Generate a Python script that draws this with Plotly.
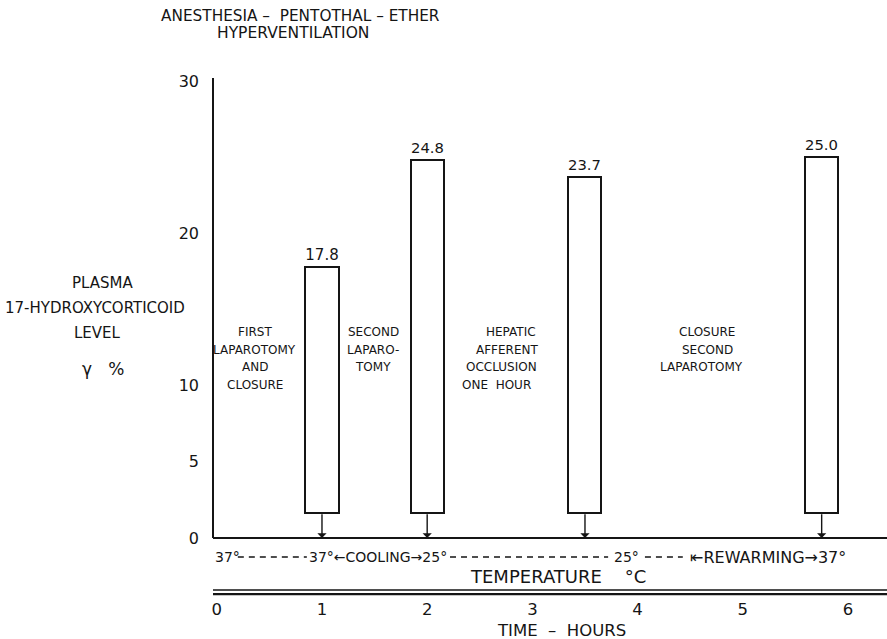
import plotly.graph_objects as go

FONT = "DejaVu Sans"
INK = "#151515"

# ---- data ----
hours = [1.0, 2.0, 3.5, 5.75]
levels = [17.8, 24.8, 23.7, 25.0]
bar_base = 1.65
x_ticks = [0, 1, 2, 3, 4, 5, 6]
y_ticks = [0, 5, 10, 20, 30]

title_lines = ["ANESTHESIA \u2013\u00a0 PENTOTHAL \u2013 ETHER", "HYPERVENTILATION"]
ylabel_lines = ["PLASMA", "17-HYDROXYCORTICOID", "LEVEL", "\u03b3\u00a0\u00a0\u00a0%"]
phase_labels = [
    ["FIRST", "LAPAROTOMY", "AND", "CLOSURE"],
    ["SECOND", "LAPARO-", "TOMY"],
    ["HEPATIC", "AFFERENT", "OCCLUSION", "ONE\u00a0 HOUR"],
    ["CLOSURE", "SECOND", "LAPAROTOMY"],
]
temp_texts = ["37\u00b0", "37\u00b0\u2190COOLING\u219225\u00b0", "25\u00b0", "\u21e4REWARMING\u219237\u00b0"]

fig = go.Figure()
fig.add_trace(go.Bar(
    x=hours,
    y=[v - bar_base for v in levels],
    base=bar_base,
    width=0.314,
    marker=dict(color="white", line=dict(color=INK, width=2)),
    text=[f"{v:.1f}" for v in levels],
    textposition="outside",
    textfont=dict(family=FONT, size=15, color=INK),
    cliponaxis=False,
    hoverinfo="skip",
))

X0 = -0.036   # position of the vertical axis line
XR = [-0.055, 6.371]
YR = [-3.808, 30.723]

shapes = []
def hline(x0, x1, y, w=2, dash="solid"):
    shapes.append(dict(type="line", xref="x", yref="y", x0=x0, x1=x1, y0=y, y1=y,
                       line=dict(color=INK, width=w, dash=dash), layer="above"))

# y axis line and zero line
shapes.append(dict(type="line", xref="x", yref="y", x0=X0, x1=X0, y0=0, y1=30.2,
                   line=dict(color=INK, width=2)))
hline(X0, XR[1], 0, 2)
# double time-axis line
hline(X0, XR[1], -3.41, 1.5)
hline(X0, XR[1], -3.68, 2.2)
# temperature dashes
T_Y = -1.25
for a, b in [(0.20, 0.856), (2.217, 3.72), (4.07, 4.43)]:
    hline(a, b, T_Y, 1.6, "6px,5px")

ann = []
def text(x, y, s, size=12, xanchor="center", ref="data"):
    r = ("x", "y") if ref == "data" else ("paper", "paper")
    ann.append(dict(x=x, y=y, xref=r[0], yref=r[1], text=s, showarrow=False,
                    xanchor=xanchor, yanchor="middle",
                    font=dict(family=FONT, size=size, color=INK)))

# arrows from bar bottoms down to zero line
for h in hours:
    ann.append(dict(x=h, y=0, ax=h, ay=bar_base, xref="x", yref="y", axref="x", ayref="y",
                    text="", showarrow=True, arrowhead=1, arrowsize=1.1, arrowwidth=1.4,
                    arrowcolor=INK, standoff=0))

# title (paper coordinates, outside the plotting area)
text(0.133, 1.1027, title_lines[0], 15.3, ref="paper")
text(0.1213, 1.0703, title_lines[1], 15.5, ref="paper")
# y label
for (x, y), s in zip([(-0.1612, 0.5951), (-0.1716, 0.5475), (-0.1672, 0.5000), (-0.1598, 0.4316)],
                     ylabel_lines):
    text(x, y, s, 15 if s != ylabel_lines[3] else 17, ref="paper")

# phase labels
line_y = [13.52, 12.37, 11.22, 10.06]
phase_x = [[0.36] * 4, [1.485] * 3, [2.80, 2.76, 2.71, 2.66], [4.66, 4.66, 4.61]]
for xs, lines in zip(phase_x, phase_labels):
    for i, s in enumerate(lines):
        text(xs[i], line_y[i], s, 12)

# temperature row
text(X0, T_Y, temp_texts[0], 14, "left")
text(1.535, T_Y, temp_texts[1], 14)
text(3.89, T_Y, temp_texts[2], 14)
text(5.24, T_Y, temp_texts[3], 16)
text(3.24, -2.56, "TEMPERATURE\u00a0\u00a0\u00a0\u00a0\u00b0C", 18)
text(0.5178, -0.0650, "TIME\u00a0\u00a0\u2013\u00a0\u00a0HOURS", 16.5, ref="paper")

fig.update_layout(
    width=887, height=639, autosize=False,
    margin=dict(l=211, r=0, t=70, b=43, pad=0),
    plot_bgcolor="white", paper_bgcolor="white",
    showlegend=False,
    font=dict(family=FONT, color=INK),
    xaxis=dict(range=XR, tickvals=x_ticks, ticktext=[str(t) for t in x_ticks],
               showgrid=False, zeroline=False, showline=False, ticks="",
               tickfont=dict(family=FONT, size=16.5, color=INK), ticklabelstandoff=1,
               fixedrange=True),
    yaxis=dict(range=YR, tickvals=y_ticks, ticktext=[str(t) for t in y_ticks],
               showgrid=False, zeroline=False, showline=False, ticks="",
               tickfont=dict(family=FONT, size=16, color=INK), ticklabelstandoff=11,
               fixedrange=True),
    shapes=shapes,
    annotations=ann,
    bargap=0,
)

fig.write_html("out.html", config={"displayModeBar": False},
               post_script="document.body.style.margin='0px';document.body.style.overflow='hidden';")
